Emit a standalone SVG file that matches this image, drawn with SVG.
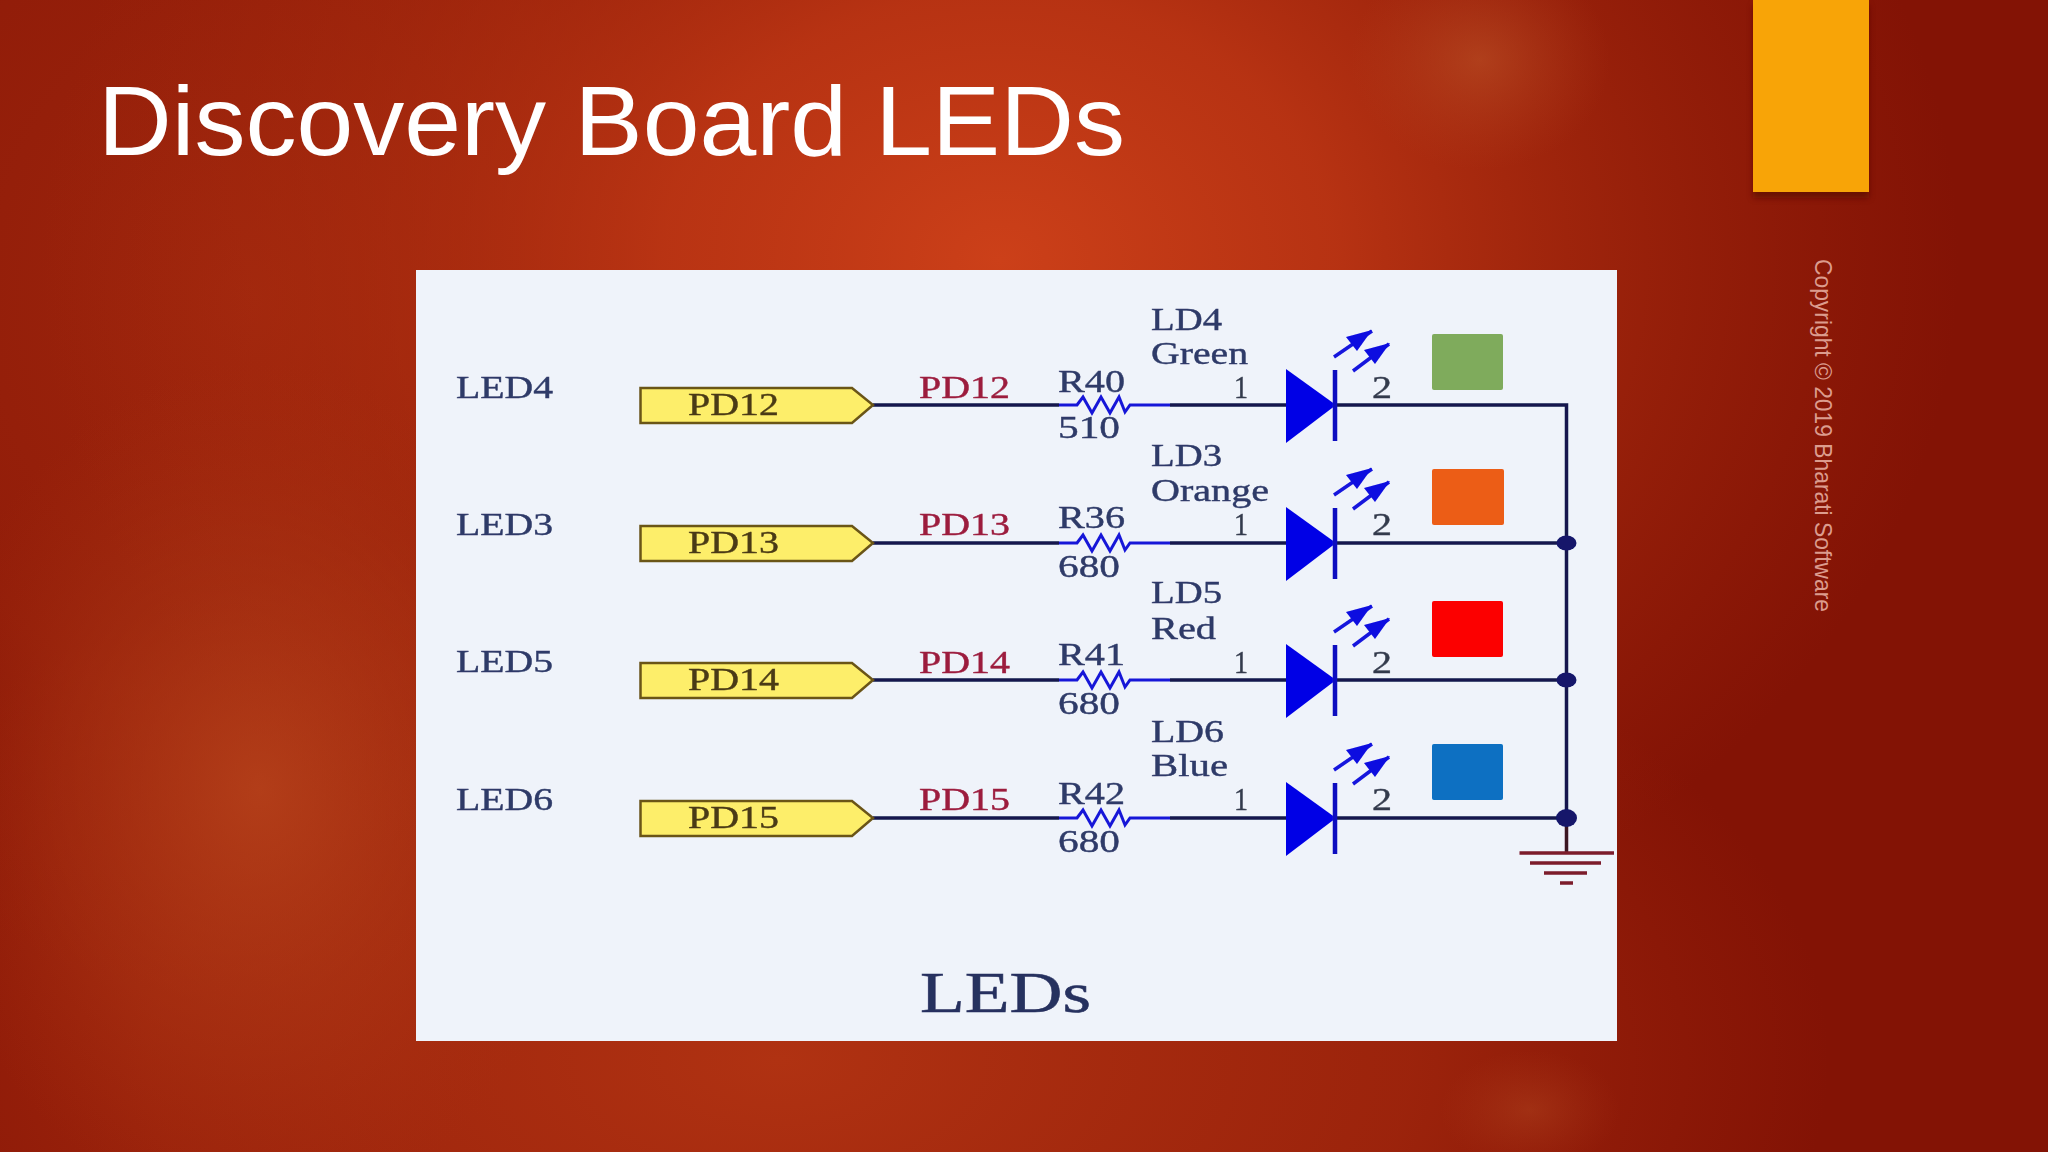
<svg xmlns="http://www.w3.org/2000/svg" xmlns:xlink="http://www.w3.org/1999/xlink" width="2048" height="1152" viewBox="0 0 2048 1152">
<defs>
<radialGradient id="g1"><stop offset="0" stop-color="#cc4019"/><stop offset=".35" stop-color="#c03815" stop-opacity=".85"/><stop offset=".7" stop-color="#b03010" stop-opacity=".4"/><stop offset="1" stop-color="#a82a0e" stop-opacity="0"/></radialGradient>
<radialGradient id="g2"><stop offset="0" stop-color="#b03212"/><stop offset=".6" stop-color="#ac2e10" stop-opacity=".6"/><stop offset="1" stop-color="#a82a0e" stop-opacity="0"/></radialGradient>
<radialGradient id="g3"><stop offset="0" stop-color="#b8441c" stop-opacity=".8"/><stop offset=".6" stop-color="#b03a16" stop-opacity=".35"/><stop offset="1" stop-color="#a83010" stop-opacity="0"/></radialGradient>
<radialGradient id="g4"><stop offset="0" stop-color="#c0582a" stop-opacity=".5"/><stop offset="1" stop-color="#b84420" stop-opacity="0"/></radialGradient>
<filter id="sh" x="-10%" y="-10%" width="120%" height="120%"><feGaussianBlur stdDeviation="3"/></filter>
<filter id="soft" x="-2%" y="-2%" width="104%" height="104%"><feGaussianBlur stdDeviation="0.6"/></filter>
<g id="diode">
<polygon points="1286,-36 1336,0 1286,38" fill="#0505e6"/>
<line x1="1335" y1="-35" x2="1335" y2="36" stroke="#1010c0" stroke-width="4.5"/>
<path d="M1334,-48 L1372,-74 M1353,-34 L1389,-61" stroke="#1515dd" stroke-width="3.5" fill="none"/>
<polygon points="1372,-75 1346,-68 1357,-54" fill="#0a0ae0"/>
<polygon points="1390,-62 1364,-55 1375,-41" fill="#0a0ae0"/>
</g>
<g id="tag"><polygon points="640.500,-17 852,-17 873,0 852,18 640.500,18" fill="#fdee6a" stroke="#6a5418" stroke-width="2.500"/></g>
<path id="res" d="M1059,0 L1077,0 L1083,-8 L1092,8 L1101,-8 L1110,8 L1119,-8 L1125,7 L1130,0 L1170,0" fill="none" stroke="#1818d8" stroke-width="3"/>
</defs>
<style>
.s{font-family:"Liberation Serif","Times New Roman",serif;font-size:31px;fill:#2e3a68;stroke:#2e3a68;stroke-width:.4}
.r{fill:#9c1c3e;stroke:#9c1c3e}
.k{fill:#4a3a14;stroke:#4a3a14}
.n{fill:#333a4c;stroke:#333a4c}
.w{stroke:#14184e;stroke-width:3.500;fill:none}
.g{stroke:#7c1c2c;stroke-width:3.500;fill:none}
.t{font-family:"Liberation Sans",Arial,sans-serif;fill:#fff}
</style>
<rect width="2048" height="1152" fill="#831305"/>
<ellipse cx="780" cy="1060" rx="1050" ry="560" fill="url(#g2)"/>
<ellipse cx="250" cy="300" rx="600" ry="700" fill="url(#g2)" opacity=".6"/>
<ellipse cx="1000" cy="260" rx="960" ry="760" fill="url(#g1)"/>
<ellipse cx="260" cy="790" rx="340" ry="430" fill="url(#g3)"/>
<ellipse cx="1480" cy="60" rx="130" ry="110" fill="url(#g4)"/>
<ellipse cx="1530" cy="1110" rx="90" ry="60" fill="url(#g4)" opacity=".6"/>
<g id="accent">
<rect x="1753" y="5" width="116" height="193" fill="#5a0c02" opacity=".7" filter="url(#sh)"/>
<rect x="1753" y="0" width="116" height="192" fill="#f8a407"/>
</g>
<text class="t" x="98" y="155" font-size="98" textLength="1027" lengthAdjust="spacingAndGlyphs">Discovery Board LEDs</text>
<text class="t" transform="translate(1815 259) rotate(90)" font-size="24" textLength="353" lengthAdjust="spacingAndGlyphs" style="fill:#dc9c8e">Copyright © 2019 Bharati Software</text>
<rect id="panel" x="416" y="270" width="1201" height="771" fill="#eff3fa"/>
<g filter="url(#soft)">
<g id="connectors">
<path class="w" d="M873,405 H1059 M1170,405 H1286 M1336,405 H1566.500 V818"/>
<path class="w" d="M873,543 H1059 M1170,543 H1286 M1336,543 H1566.500"/>
<path class="w" d="M873,680 H1059 M1170,680 H1286 M1336,680 H1566.500"/>
<path class="w" d="M873,818 H1059 M1170,818 H1286 M1336,818 H1566.500"/>
<path d="M1566.500,818 V853" stroke="#3a1420" stroke-width="3.500" fill="none"/>
</g>
<g id="row-led4">
<text class="s" x="456" y="398" textLength="97" lengthAdjust="spacingAndGlyphs">LED4</text>
<use href="#tag" xlink:href="#tag" y="405"/>
<text class="s k" x="688" y="415" textLength="91" lengthAdjust="spacingAndGlyphs">PD12</text>
<text class="s r" x="919" y="398" textLength="91" lengthAdjust="spacingAndGlyphs">PD12</text>
<use href="#res" xlink:href="#res" y="405"/>
<text class="s" x="1058" y="392" textLength="67" lengthAdjust="spacingAndGlyphs">R40</text>
<text class="s" x="1058" y="438" textLength="62" lengthAdjust="spacingAndGlyphs">510</text>
<text class="s" x="1151" y="330" textLength="71" lengthAdjust="spacingAndGlyphs">LD4</text>
<text class="s" x="1151" y="364" textLength="97" lengthAdjust="spacingAndGlyphs">Green</text>
<text class="s n" x="1234" y="398" textLength="14" lengthAdjust="spacingAndGlyphs">1</text>
<use href="#diode" xlink:href="#diode" y="405"/>
<text class="s n" x="1372" y="398" textLength="20" lengthAdjust="spacingAndGlyphs">2</text>
<rect x="1432" y="334" width="71" height="56" rx="2" fill="#7fab5b"/>
</g>
<g id="row-led3">
<text class="s" x="456" y="535" textLength="97" lengthAdjust="spacingAndGlyphs">LED3</text>
<use href="#tag" xlink:href="#tag" y="543"/>
<text class="s k" x="688" y="553" textLength="91" lengthAdjust="spacingAndGlyphs">PD13</text>
<text class="s r" x="919" y="535" textLength="91" lengthAdjust="spacingAndGlyphs">PD13</text>
<use href="#res" xlink:href="#res" y="543"/>
<text class="s" x="1058" y="528" textLength="67" lengthAdjust="spacingAndGlyphs">R36</text>
<text class="s" x="1058" y="577" textLength="62" lengthAdjust="spacingAndGlyphs">680</text>
<text class="s" x="1151" y="466" textLength="71" lengthAdjust="spacingAndGlyphs">LD3</text>
<text class="s" x="1151" y="501" textLength="118" lengthAdjust="spacingAndGlyphs">Orange</text>
<text class="s n" x="1234" y="535" textLength="14" lengthAdjust="spacingAndGlyphs">1</text>
<use href="#diode" xlink:href="#diode" y="543"/>
<text class="s n" x="1372" y="535" textLength="20" lengthAdjust="spacingAndGlyphs">2</text>
<rect x="1432" y="469" width="72" height="56" rx="2" fill="#ec5d16"/>
<ellipse cx="1566.500" cy="543" rx="10" ry="7.500" fill="#12146a"/>
</g>
<g id="row-led5">
<text class="s" x="456" y="672" textLength="97" lengthAdjust="spacingAndGlyphs">LED5</text>
<use href="#tag" xlink:href="#tag" y="680"/>
<text class="s k" x="688" y="690" textLength="91" lengthAdjust="spacingAndGlyphs">PD14</text>
<text class="s r" x="919" y="673" textLength="91" lengthAdjust="spacingAndGlyphs">PD14</text>
<use href="#res" xlink:href="#res" y="680"/>
<text class="s" x="1058" y="665" textLength="67" lengthAdjust="spacingAndGlyphs">R41</text>
<text class="s" x="1058" y="714" textLength="62" lengthAdjust="spacingAndGlyphs">680</text>
<text class="s" x="1151" y="603" textLength="71" lengthAdjust="spacingAndGlyphs">LD5</text>
<text class="s" x="1151" y="639" textLength="65" lengthAdjust="spacingAndGlyphs">Red</text>
<text class="s n" x="1234" y="673" textLength="14" lengthAdjust="spacingAndGlyphs">1</text>
<use href="#diode" xlink:href="#diode" y="680"/>
<text class="s n" x="1372" y="673" textLength="20" lengthAdjust="spacingAndGlyphs">2</text>
<rect x="1432" y="601" width="71" height="56" rx="2" fill="#fc0505"/>
<ellipse cx="1566.500" cy="680" rx="10" ry="7.500" fill="#12146a"/>
</g>
<g id="row-led6">
<text class="s" x="456" y="810" textLength="97" lengthAdjust="spacingAndGlyphs">LED6</text>
<use href="#tag" xlink:href="#tag" y="818"/>
<text class="s k" x="688" y="828" textLength="91" lengthAdjust="spacingAndGlyphs">PD15</text>
<text class="s r" x="919" y="810" textLength="91" lengthAdjust="spacingAndGlyphs">PD15</text>
<use href="#res" xlink:href="#res" y="818"/>
<text class="s" x="1058" y="804" textLength="67" lengthAdjust="spacingAndGlyphs">R42</text>
<text class="s" x="1058" y="852" textLength="62" lengthAdjust="spacingAndGlyphs">680</text>
<text class="s" x="1151" y="742" textLength="73" lengthAdjust="spacingAndGlyphs">LD6</text>
<text class="s" x="1151" y="776" textLength="77" lengthAdjust="spacingAndGlyphs">Blue</text>
<text class="s n" x="1234" y="810" textLength="14" lengthAdjust="spacingAndGlyphs">1</text>
<use href="#diode" xlink:href="#diode" y="818"/>
<text class="s n" x="1372" y="810" textLength="20" lengthAdjust="spacingAndGlyphs">2</text>
<rect x="1432" y="744" width="71" height="56" rx="2" fill="#0870c2"/>
<ellipse cx="1566.500" cy="818" rx="10.500" ry="9" fill="#12146a"/>
</g>
<g id="ground">
<path class="g" d="M1519.500,853 H1614 M1530,863 H1601 M1544,873 H1587 M1560,883 H1573"/>
</g>
<text x="920" y="1012" font-family="Liberation Serif, serif" font-size="56" fill="#26305e" stroke="#26305e" stroke-width=".5" textLength="171" lengthAdjust="spacingAndGlyphs">LEDs</text>
</g>
</svg>
